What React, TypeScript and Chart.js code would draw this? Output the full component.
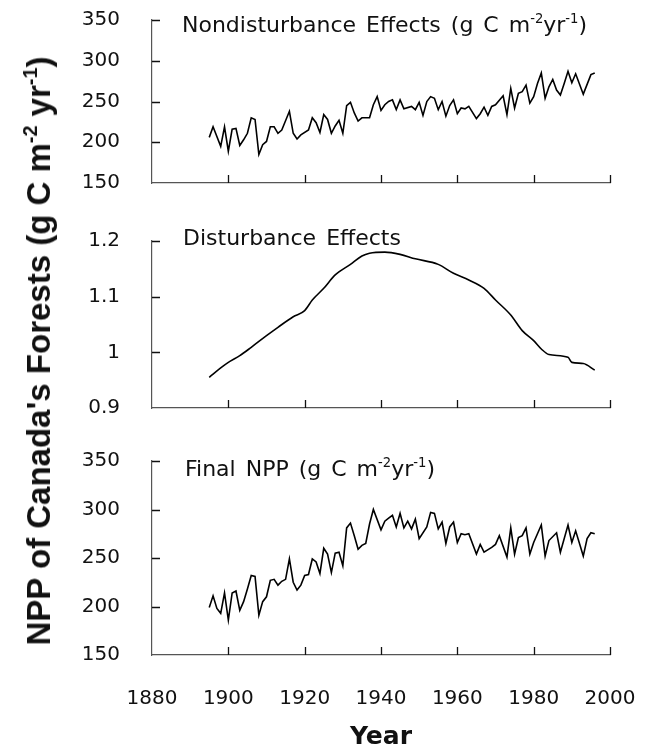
import React, { useEffect, useRef } from "react";
import { Chart, registerables } from "chart.js";

Chart.register(...registerables);

// ---- data ----
const yearTicks = [1880, 1900, 1920, 1940, 1960, 1980, 2000];
const nppTicks = [150, 200, 250, 300, 350];
const distTicks = [0.9, 1.0, 1.1, 1.2];

const nondistYears = [
  1895, 1896, 1898, 1899, 1900, 1901, 1902, 1903, 1904, 1905, 1906, 1907, 1908, 1909, 1910,
  1911, 1912, 1913, 1914, 1916, 1917, 1918, 1919, 1921, 1922, 1923, 1924, 1925, 1926, 1927,
  1928, 1929, 1930, 1931, 1932, 1933, 1934, 1935, 1937, 1938, 1939, 1940, 1941, 1942, 1943,
  1944, 1945, 1946, 1948, 1949, 1950, 1951, 1952, 1953, 1954, 1955, 1956, 1957, 1958, 1959,
  1960, 1961, 1962, 1963, 1965, 1966, 1967, 1968, 1969, 1970, 1972, 1973, 1974, 1975, 1976,
  1977, 1978, 1979, 1980, 1981, 1982, 1983, 1984, 1985, 1986, 1987, 1988, 1989, 1990, 1991,
  1993, 1995, 1996,
];
const nondistValues = [
  206, 219, 195, 219, 189, 216, 217, 196, 203, 211, 230, 228, 185, 197, 201,
  219, 219, 211, 215, 238, 211, 204, 209, 215, 230, 224, 212, 234, 228, 211,
  220, 227, 211, 245, 249, 236, 226, 230, 230, 246, 256, 239, 246, 250, 252,
  240, 252, 241, 244, 240, 249, 233, 250, 256, 254, 240, 250, 232, 245, 252,
  235, 242, 241, 244, 229, 235, 243, 233, 244, 246, 257, 234, 266, 242, 260,
  262, 270, 248, 256, 272, 285, 254, 268, 277, 264, 258, 272, 287, 273, 284,
  259, 283, 285,
];

const distYears = [
  1895, 1898, 1900, 1903, 1906, 1910, 1913, 1917, 1920, 1922, 1925, 1928, 1932, 1935, 1937,
  1941, 1945, 1949, 1955, 1959, 1963, 1967, 1970, 1974, 1977, 1980, 1982, 1984, 1989, 1990,
  1993, 1996,
];
const distValues = [
  0.955, 0.972, 0.982, 0.994, 1.009, 1.03, 1.045, 1.064, 1.075, 1.094, 1.115, 1.139, 1.158, 1.173, 1.178,
  1.18, 1.176, 1.168, 1.158, 1.142, 1.13, 1.115, 1.094, 1.067, 1.039, 1.021, 1.006, 0.996, 0.991, 0.982,
  0.98, 0.968,
];

const finalYears = [
  1895, 1896, 1897, 1898, 1899, 1900, 1901, 1902, 1903, 1904, 1905, 1906, 1907, 1908, 1909,
  1910, 1911, 1912, 1913, 1914, 1915, 1916, 1917, 1918, 1919, 1920, 1921, 1922, 1923, 1924,
  1925, 1926, 1927, 1928, 1929, 1930, 1931, 1932, 1933, 1934, 1935, 1936, 1937, 1938, 1940,
  1941, 1942, 1943, 1944, 1945, 1946, 1947, 1948, 1949, 1950, 1952, 1953, 1954, 1955, 1956,
  1957, 1958, 1959, 1960, 1961, 1962, 1963, 1965, 1966, 1967, 1969, 1970, 1971, 1973, 1974,
  1975, 1976, 1977, 1978, 1979, 1980, 1982, 1983, 1984, 1986, 1987, 1989, 1990, 1991, 1993,
  1994, 1995, 1996,
];
const finalValues = [
  199, 211, 198, 193, 214, 186, 214, 216, 196, 205, 218, 232, 231, 191, 205,
  210, 227, 228, 222, 226, 228, 249, 225, 217, 222, 232, 233, 249, 246, 234,
  260, 254, 235, 255, 256, 242, 281, 286, 273, 259, 263, 265, 285, 300, 279,
  288, 291, 294, 282, 296, 281, 288, 280, 290, 270, 282, 297, 296, 280, 287,
  265, 282, 287, 266, 275, 274, 275, 254, 264, 256, 261, 264, 273, 251, 281,
  254, 271, 273, 281, 254, 266, 284, 252, 268, 276, 256, 284, 266, 278, 252,
  270, 276, 275,
];

const FONT = "'DejaVu Sans', sans-serif";

const inwardTicks = {
  id: "inwardTicks",
  afterDraw(chart: any) {
    const { ctx, chartArea, scales } = chart;
    const xs = scales.x;
    const ys = scales.y;
    ctx.save();
    ctx.strokeStyle = "#111";
    ctx.lineWidth = 1.3;
    ctx.beginPath();
    xs.ticks.forEach((t: any) => {
      if (t.value === xs.min) return;
      const px = Math.round(xs.getPixelForValue(t.value)) + 0.5;
      ctx.moveTo(px, chartArea.bottom);
      ctx.lineTo(px, chartArea.bottom - 8);
    });
    ys.ticks.forEach((t: any) => {
      if (t.value === ys.min) return;
      const py = Math.round(ys.getPixelForValue(t.value)) + 0.5;
      ctx.moveTo(chartArea.left, py);
      ctx.lineTo(chartArea.left + 8, py);
    });
    ctx.stroke();
    ctx.restore();
  },
};

const noAutoPadding = (s: any) => {
  s.paddingTop = 0;
  s.paddingBottom = 0;
  s.paddingLeft = 0;
  s.paddingRight = 0;
};

type PanelProps = {
  top: number;
  height: number;
  areaTop: number;
  xAxisHeight: number;
  years: number[];
  values: number[];
  yTicks: number[];
  showX: boolean;
  smooth: boolean;
};

function Panel({ top, height, areaTop, xAxisHeight, years, values, yTicks, showX, smooth }: PanelProps) {
  const ref = useRef<HTMLCanvasElement | null>(null);
  useEffect(() => {
    if (!ref.current) return;
    const chart = new Chart(ref.current, {
      type: "line",
      data: {
        datasets: [
          {
            data: years.map((y, i) => ({ x: y, y: values[i] })),
            borderColor: "#000",
            borderWidth: 1.6,
            pointRadius: 0,
            tension: smooth ? 0.4 : 0,
            cubicInterpolationMode: smooth ? "monotone" : "default",
            fill: false,
          },
        ],
      },
      options: {
        animation: false,
        responsive: false,
        devicePixelRatio: 1,
        layout: { autoPadding: false, padding: { top: areaTop, bottom: 0, left: 0, right: 42 } },
        plugins: { legend: { display: false }, tooltip: { enabled: false } },
        scales: {
          x: {
            type: "linear",
            min: yearTicks[0],
            max: yearTicks[yearTicks.length - 1],
            afterBuildTicks: (s: any) => {
              s.ticks = yearTicks.map((v) => ({ value: v }));
            },
            grid: { display: false },
            border: { display: true, color: "#555", width: 1.2 },
            ticks: {
              display: showX,
              autoSkip: false,
              maxRotation: 0,
              padding: 24,
              color: "#111",
              font: { family: FONT, size: 20 },
              callback: (v: any) => String(v),
            },
            title: {
              display: showX,
              text: "Year",
              color: "#111",
              font: { family: FONT, size: 25, weight: "bold" },
              padding: { top: 0, bottom: 0 },
            },
            afterFit: (s: any) => {
              s.height = xAxisHeight;
              noAutoPadding(s);
            },
          },
          y: {
            type: "linear",
            min: yTicks[0],
            max: yTicks[yTicks.length - 1],
            afterBuildTicks: (s: any) => {
              s.ticks = yTicks.map((v) => ({ value: v }));
            },
            grid: { display: false },
            border: { display: true, color: "#555", width: 1.2 },
            ticks: {
              padding: 24,
              color: "#111",
              font: { family: FONT, size: 20 },
              callback: (v: any) => String(Math.round(Number(v) * 10) / 10),
            },
            afterFit: (s: any) => {
              s.width = 152;
              noAutoPadding(s);
            },
          },
        },
      } as any,
      plugins: [inwardTicks],
    });
    return () => chart.destroy();
  }, []);
  return (
    <canvas
      ref={ref}
      width={652}
      height={height}
      style={{ position: "absolute", left: 0, top, width: 652, height }}
    />
  );
}

const supStyle: React.CSSProperties = {
  fontSize: "0.6em",
  position: "relative",
  top: "-0.65em",
};

const titleStyle: React.CSSProperties = {
  position: "absolute",
  fontFamily: FONT,
  fontSize: 22,
  lineHeight: "22px",
  color: "#111",
  whiteSpace: "nowrap",
  wordSpacing: 3,
};

export default function App() {
  return (
    <div
      style={{
        position: "absolute",
        left: 0,
        top: 0,
        width: 652,
        height: 752,
        background: "#fff",
        overflow: "hidden",
      }}
    >
      <Panel top={0} height={200} areaTop={20} xAxisHeight={17} years={nondistYears} values={nondistValues} yTicks={nppTicks} showX={false} smooth={false} />
      <Panel top={200} height={230} areaTop={41} xAxisHeight={22} years={distYears} values={distValues} yTicks={distTicks} showX={false} smooth={true} />
      <Panel top={430} height={322} areaTop={31} xAxisHeight={97} years={finalYears} values={finalValues} yTicks={nppTicks} showX={true} smooth={false} />

      <div style={{ ...titleStyle, left: 182, top: 14 }}>
        Nondisturbance Effects (g C m<span style={supStyle}>-2</span>yr<span style={supStyle}>-1</span>)
      </div>
      <div style={{ ...titleStyle, left: 183, top: 227 }}>Disturbance Effects</div>
      <div style={{ ...titleStyle, left: 185, top: 458 }}>
        Final NPP (g C m<span style={supStyle}>-2</span>yr<span style={supStyle}>-1</span>)
      </div>

      <div
        style={{
          position: "absolute",
          left: 41,
          top: 351,
          transform: "translate(-50%, -50%) rotate(-90deg)",
          fontFamily: "'Liberation Sans', Arial, sans-serif",
          fontWeight: "bold",
          fontSize: 33,
          lineHeight: "33px",
          color: "#111",
          whiteSpace: "nowrap",
        }}
      >
        NPP of Canada's Forests (g C m<span style={supStyle}>-2</span> yr<span style={supStyle}>-1</span>)
      </div>
    </div>
  );
}
